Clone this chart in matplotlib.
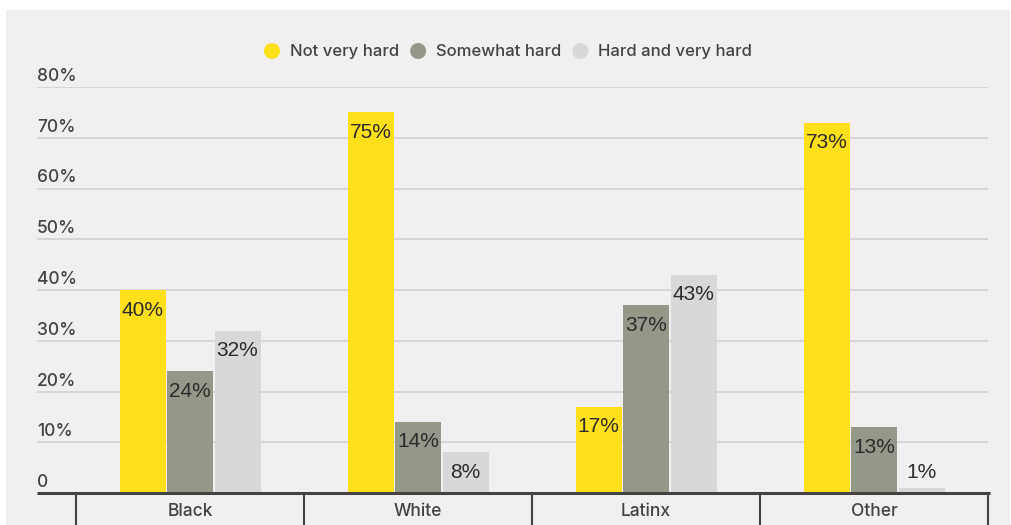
import matplotlib
matplotlib.use("Agg")
import matplotlib.pyplot as plt
from matplotlib.patches import Rectangle, Circle
import numpy as np

# Data
categories = ["Black", "White", "Latinx", "Other"]
series_names = ["Not very hard", "Somewhat hard", "Hard and very hard"]
not_very_hard = [40, 75, 17, 73]
somewhat_hard = [24, 14, 37, 13]
hard_very_hard = [32, 8, 43, 1]
y_ticks = [0, 10, 20, 30, 40, 50, 60, 70, 80]
y_tick_labels = ["0", "10%", "20%", "30%", "40%", "50%", "60%", "70%", "80%"]

colors = ["#FFE01B", "#939889", "#D7D8DA"]
panel_bg = "#F1EFF0"
grid_col = "#CFCDCF"
dark = "#434343"
label_col = "#2B2B2B"
ui_font = ["Inter", "DejaVu Sans"]
num_font = ["Liberation Sans", "DejaVu Sans"]

W, H = 1011, 525
fig = plt.figure(figsize=(W / 100, H / 100), dpi=100, facecolor="white")

# Background panel
fig.patches.append(Rectangle((6 / W, 0), (1010 - 6) / W, (H - 10) / H,
                             transform=fig.transFigure, facecolor=panel_bg,
                             edgecolor="none", zorder=-5))

ax_left, ax_right = 37, 988
ax_bottom, ax_top = 493, 87
ax = fig.add_axes([ax_left / W, 1 - ax_bottom / H,
                   (ax_right - ax_left) / W, (ax_bottom - ax_top) / H])
ax.set_facecolor("none")
ax.set_zorder(1)

group_w = 228
x_center0 = 190
ax.set_xlim((ax_left - x_center0) / group_w, (ax_right - x_center0) / group_w)
ax.set_ylim(0, 80)

x = np.arange(len(categories))
offset = 47.5 / group_w
bar_w = 46 / group_w
all_series = [not_very_hard, somewhat_hard, hard_very_hard]

for k, (vals, col) in enumerate(zip(all_series, colors)):
    xs = x + (k - 1) * offset
    ax.bar(xs, vals, width=bar_w, color=col, zorder=3)
    for xi, v in zip(xs, vals):
        if v >= 5:
            ax.annotate(f"{v}%", xy=(xi, v), xytext=(0, -20),
                        textcoords="offset pixels", ha="center", va="center",
                        fontsize=15, color=label_col, family=num_font, zorder=4)
        else:
            ax.annotate(f"{v}%", xy=(xi, v), xytext=(0, 6),
                        textcoords="offset pixels", ha="center", va="bottom",
                        fontsize=15, color=label_col, family=num_font, zorder=4)

# Gridlines and y labels
for t, lab in zip(y_ticks, y_tick_labels):
    if t > 0:
        ax.axhline(t, color=grid_col, lw=1.1, zorder=1)
    ax.annotate(lab, xy=(0, t), xycoords=("axes fraction", "data"),
                xytext=(0, 6), textcoords="offset pixels", ha="left",
                va="baseline", fontsize=12.5, fontweight="medium", color=dark,
                family=ui_font)

ax.set_xticks([])
ax.set_yticks([])
for s in ax.spines.values():
    s.set_visible(False)

# Baseline
ax.plot([0, 1 + 2 / (ax_right - ax_left)], [0, 0], transform=ax.get_yaxis_transform(),
        color=dark, lw=2.2, clip_on=False, zorder=5, solid_capstyle="butt")

# Category separators and labels
for b in np.arange(len(categories) + 1) - 0.5:
    ax.plot([b, b], [0, -10], color=dark, lw=1.5, clip_on=False, zorder=5)
for xi, c in zip(x, categories):
    ax.annotate(c, xy=(xi, 0), xytext=(0, -18), textcoords="offset pixels",
                ha="center", va="center", fontsize=12.5, fontweight="medium",
                color=dark, family=ui_font)

# Legend
fig.canvas.draw()
renderer = fig.canvas.get_renderer()
leg_y = 51
cx = 264
r = 8
for name, col in zip(series_names, colors):
    fig.patches.append(Circle((cx + r, H - leg_y), r, transform=None,
                              facecolor=col, edgecolor="none", zorder=6))
    t = fig.text((cx + 2 * r + 10) / W, 1 - leg_y / H, name, ha="left",
                 va="center", fontsize=12, fontweight="medium", color=dark,
                 family=ui_font)
    bb = t.get_window_extent(renderer)
    cx = bb.x1 + 11

fig.savefig("out.png", dpi=100, facecolor="white")
